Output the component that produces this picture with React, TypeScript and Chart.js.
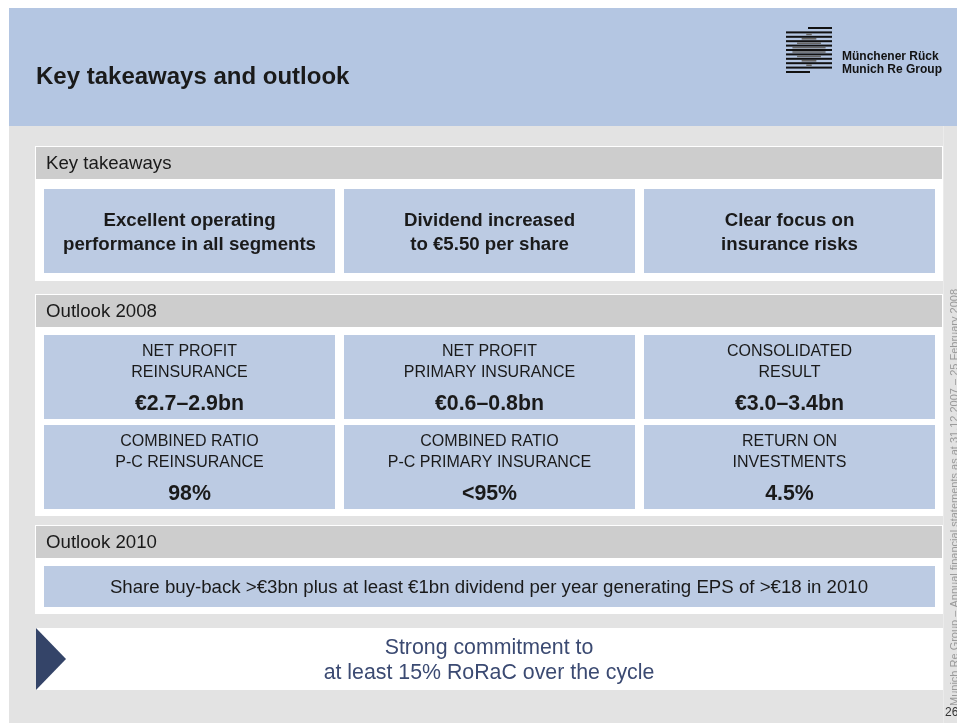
import React, { useEffect, useRef } from "react";
import { Chart, registerables } from "chart.js";

Chart.register(...registerables);

// ---- content ----
const slideTitle = "Key takeaways and outlook";
const logoLines = ["Münchener Rück", "Munich Re Group"];
const sectionTitles = ["Key takeaways", "Outlook 2008", "Outlook 2010"];
const takeaways = [
  ["Excellent operating", "performance in all segments"],
  ["Dividend increased", "to €5.50 per share"],
  ["Clear focus on", "insurance risks"],
];
const outlookLabels = [
  ["NET PROFIT", "REINSURANCE"],
  ["NET PROFIT", "PRIMARY INSURANCE"],
  ["CONSOLIDATED", "RESULT"],
  ["COMBINED RATIO", "P-C REINSURANCE"],
  ["COMBINED RATIO", "P-C PRIMARY INSURANCE"],
  ["RETURN ON", "INVESTMENTS"],
];
const outlookValues = ["€2.7–2.9bn", "€0.6–0.8bn", "€3.0–3.4bn", "98%", "<95%", "4.5%"];
const outlook2010 = "Share buy-back >€3bn plus at least €1bn dividend per year generating EPS of >€18 in 2010";
const commitment = ["Strong commitment to", "at least 15% RoRaC over the cycle"];
const footerNote = "Munich Re Group – Annual financial statements as at 31.12.2007 – 25 February 2008";
const pageNumber = "26";

const FONT = '"Liberation Sans", Arial, sans-serif';
const C = {
  header: "#b4c6e2",
  bg: "#e3e3e3",
  panelHead: "#cdcdcd",
  box: "#bccbe3",
  text: "#1a1a1a",
  navy: "#344468",
  commit: "#3b4a72",
};

const slidePlugin = {
  id: "slide",
  beforeDraw(chart: any) {
    const ctx: CanvasRenderingContext2D = chart.ctx;
    const W = chart.width;
    const H = chart.height;
    ctx.save();
    ctx.fillStyle = "#ffffff";
    ctx.fillRect(0, 0, W, H);
    ctx.fillStyle = C.header;
    ctx.fillRect(9, 8, W - 9, 118);
    ctx.fillStyle = C.bg;
    ctx.fillRect(9, 126, W - 9, H - 126);
    ctx.fillStyle = "#ebebeb";
    ctx.fillRect(943, 126, 1, H - 126);

    // title
    ctx.fillStyle = C.text;
    ctx.font = `bold 24px ${FONT}`;
    ctx.textBaseline = "middle";
    ctx.textAlign = "left";
    ctx.fillText(slideTitle, 36, 77);

    // logo
    const cx = 809, cy = 50, r = 18;
    const n = 11;
    for (let i = 0; i < n; i++) {
      const y = 28 + i * 4.4;
      let x0 = 786, x1 = 832;
      if (i === 0) x0 = 808;
      if (i === n - 1) x1 = 810;
      ctx.fillStyle = "#111";
      ctx.fillRect(x0, y - 1, x1 - x0, 2);
      if (i < n - 1) {
        const gy = y + 2.2;
        const dy = Math.abs(gy - cy);
        if (dy < r) {
          const hw = (r - dy) * 1.05;
          ctx.fillStyle = "#666";
          ctx.fillRect(cx - hw, gy - 1, hw * 2, 1.6);
        }
      }
    }
    ctx.fillStyle = "#111";
    ctx.font = `bold 12px ${FONT}`;
    ctx.textBaseline = "alphabetic";
    ctx.fillText(logoLines[0], 842, 60);
    ctx.fillText(logoLines[1], 842, 73);

    const panel = (top: number, bottom: number, headBottom: number, title: string) => {
      ctx.fillStyle = "#ffffff";
      ctx.fillRect(35, top, 908, bottom - top);
      ctx.fillStyle = C.panelHead;
      ctx.fillRect(36, top + 1, 906, headBottom - top - 1);
      ctx.fillStyle = C.text;
      ctx.font = `18.67px ${FONT}`;
      ctx.textBaseline = "middle";
      ctx.textAlign = "left";
      ctx.fillText(title, 46, (top + 1 + headBottom) / 2 + 1);
    };
    const boxXs = [44, 344, 644];
    const boxW = 291;

    // Panel 1
    panel(146, 281, 179, sectionTitles[0]);
    takeaways.forEach((lines, i) => {
      ctx.fillStyle = C.box;
      ctx.fillRect(boxXs[i], 189, boxW, 84);
      ctx.fillStyle = C.text;
      ctx.font = `bold 18.67px ${FONT}`;
      ctx.textAlign = "center";
      ctx.textBaseline = "middle";
      lines.forEach((l, j) => ctx.fillText(l, boxXs[i] + boxW / 2, 220.5 + j * 24));
    });

    // Panel 2
    panel(294, 516, 327, sectionTitles[1]);
    outlookLabels.forEach((lines, k) => {
      const col = k % 3;
      const row = Math.floor(k / 3);
      const top = row === 0 ? 335 : 425;
      ctx.fillStyle = C.box;
      ctx.fillRect(boxXs[col], top, boxW, 84);
      ctx.fillStyle = C.text;
      ctx.textAlign = "center";
      ctx.textBaseline = "middle";
      ctx.font = `16px ${FONT}`;
      lines.forEach((l, j) => ctx.fillText(l, boxXs[col] + boxW / 2, top + 17 + j * 21));
      ctx.font = `bold 21.33px ${FONT}`;
      ctx.fillText(outlookValues[k], boxXs[col] + boxW / 2, top + 69);
    });

    // Panel 3
    panel(525, 614, 558, sectionTitles[2]);
    ctx.fillStyle = C.box;
    ctx.fillRect(44, 566, 891, 41);
    ctx.fillStyle = C.text;
    ctx.font = `18.67px ${FONT}`;
    ctx.textAlign = "center";
    ctx.textBaseline = "middle";
    ctx.fillText(outlook2010, 489, 588);

    // Commitment
    ctx.fillStyle = "#ffffff";
    ctx.fillRect(36, 628, 907, 62);
    ctx.fillStyle = C.navy;
    ctx.beginPath();
    ctx.moveTo(36, 628);
    ctx.lineTo(66, 659);
    ctx.lineTo(36, 690);
    ctx.closePath();
    ctx.fill();
    ctx.fillStyle = C.commit;
    ctx.font = `21.33px ${FONT}`;
    ctx.textAlign = "center";
    ctx.fillText(commitment[0], 489, 648);
    ctx.fillText(commitment[1], 489, 673);

    // vertical footer note (clipped at the slide edge)
    ctx.save();
    ctx.translate(958, 706);
    ctx.rotate(-Math.PI / 2);
    ctx.fillStyle = "#9a9a9a";
    ctx.font = `11px ${FONT}`;
    ctx.textAlign = "left";
    ctx.textBaseline = "alphabetic";
    ctx.fillText(footerNote, 0, 0);
    ctx.restore();

    ctx.fillStyle = "#333";
    ctx.font = `12px ${FONT}`;
    ctx.textAlign = "left";
    ctx.textBaseline = "alphabetic";
    ctx.fillText(pageNumber, 945, 716);
    ctx.restore();
  },
};

export default function App() {
  const ref = useRef<HTMLCanvasElement | null>(null);
  useEffect(() => {
    if (!ref.current) return;
    const chart = new Chart(ref.current, {
      type: "bar",
      data: { labels: [], datasets: [] },
      options: {
        animation: false,
        responsive: false,
        devicePixelRatio: 1,
        events: [],
        layout: { padding: 0 },
        scales: { x: { display: false }, y: { display: false } },
        plugins: { legend: { display: false }, tooltip: { enabled: false }, title: { display: false } },
      },
      plugins: [slidePlugin],
    });
    return () => chart.destroy();
  }, []);
  return (
    <div style={{ position: "absolute", left: 0, top: 0, width: 957, height: 723 }}>
      <canvas ref={ref} width={957} height={723} style={{ display: "block", width: 957, height: 723 }} />
    </div>
  );
}
